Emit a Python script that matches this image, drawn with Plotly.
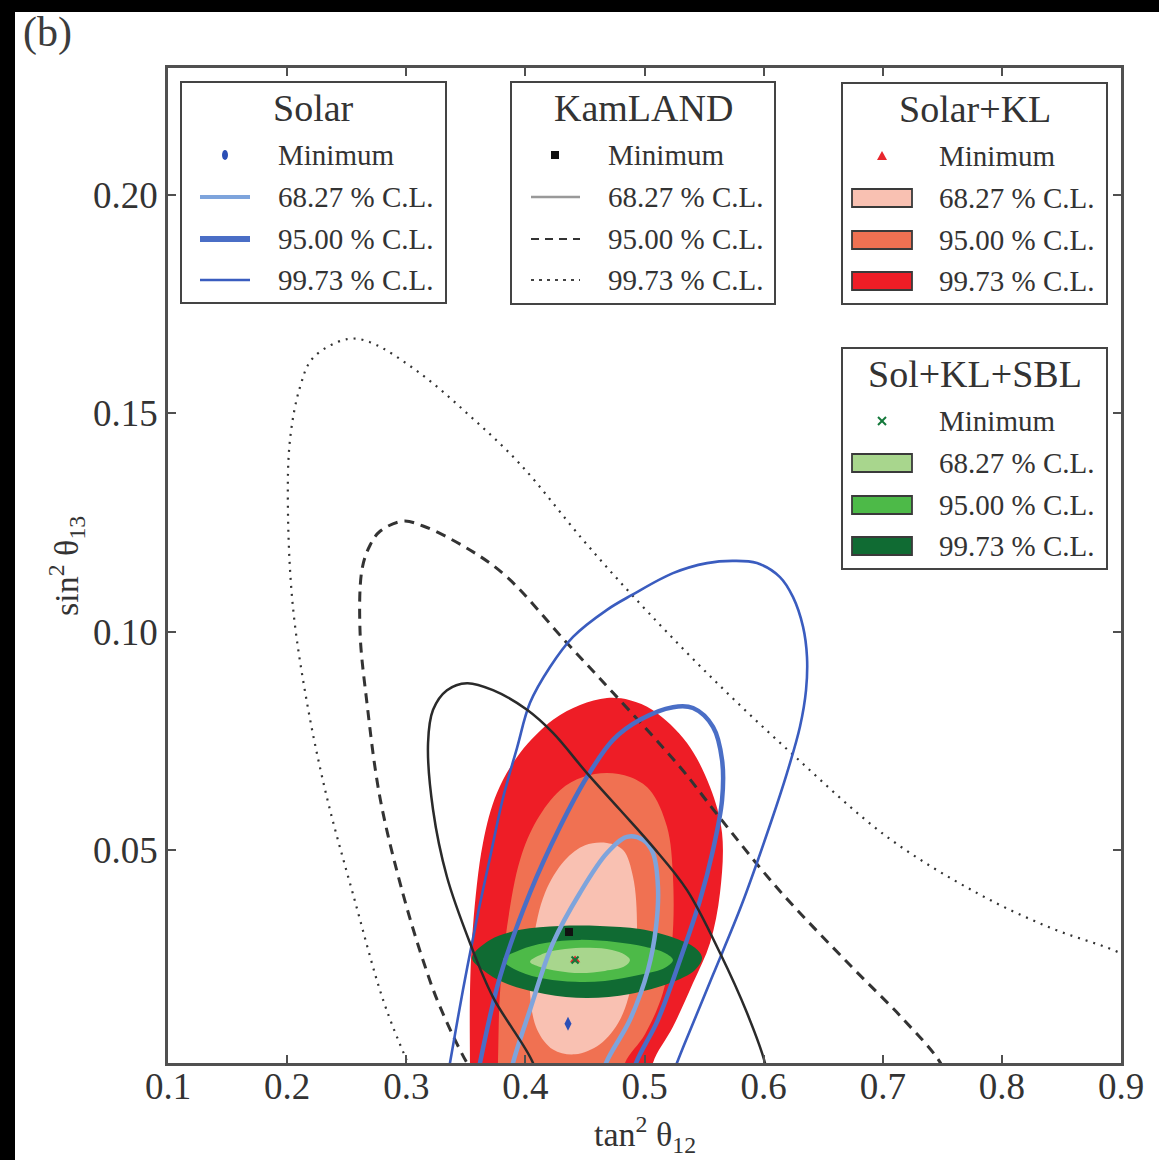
import plotly.graph_objects as go

# ---------------- contour data (tan^2 theta12, sin^2 theta13) ----------------
# KamLAND-only contours (open at the sin^2 theta13 = 0 boundary)
kl_9973_x = [0.3115, 0.299, 0.2805, 0.2553, 0.2335, 0.2167, 0.2049, 0.2007, 0.2024, 0.2108,
             0.2217, 0.2503, 0.2696, 0.3115, 0.3535, 0.3955, 0.4484, 0.4895, 0.5525, 0.6247,
             0.7036, 0.78, 0.8413, 0.8975, 0.95]
kl_9973_y = [-0.0049, 0.0027, 0.0157, 0.0399, 0.0619, 0.0837, 0.1056, 0.1276, 0.1439, 0.156,
             0.1627, 0.167, 0.1663, 0.1592, 0.1494, 0.1384, 0.121, 0.1084, 0.0905, 0.0718,
             0.053, 0.04, 0.0321, 0.0266, 0.019]

kl_9500_x = [0.3661, 0.351, 0.3283, 0.3157, 0.2973, 0.278, 0.267, 0.2612, 0.2629, 0.2696, 0.278,
             0.2973, 0.3141, 0.3535, 0.3846, 0.4349, 0.4736, 0.5298, 0.56, 0.612, 0.6733,
             0.717, 0.748, 0.7564]
kl_9500_y = [-0.005, 0.0012, 0.0141, 0.0234, 0.0399, 0.0619, 0.0837, 0.1001, 0.1143, 0.1198, 0.123,
             0.1253, 0.1242, 0.1187, 0.1125, 0.0974, 0.086, 0.069, 0.0585, 0.0411, 0.0234,
             0.0113, 0.0014, -0.004]

kl_6827_x = [0.4106, 0.4064, 0.3728, 0.3535, 0.3342, 0.3225, 0.3183, 0.3225, 0.3342, 0.351, 0.3728,
             0.4014, 0.4232, 0.4517, 0.4794, 0.5071, 0.5357, 0.5634, 0.586, 0.6011, 0.6036]
kl_6827_y = [-0.004, 0.0012, 0.0163, 0.0287, 0.0438, 0.0592, 0.0745, 0.0821, 0.0866, 0.0882, 0.0866,
             0.0821, 0.0768, 0.0676, 0.0592, 0.0507, 0.0408, 0.0264, 0.0127, 0.0012, -0.004]

# Solar-only contours
sol_9973_x = [0.3334, 0.3367, 0.3476, 0.3594, 0.3703, 0.3812, 0.393, 0.4039, 0.4207, 0.44, 0.4685,
              0.4895, 0.5239, 0.5525, 0.5743, 0.5944, 0.6137, 0.6247, 0.6331, 0.6364, 0.6356,
              0.6305, 0.6196, 0.6062, 0.5818, 0.5575, 0.5332, 0.5197]
sol_9973_y = [-0.004, 0.0012, 0.0179, 0.0344, 0.0482, 0.0619, 0.0734, 0.0837, 0.0919, 0.0988, 0.105,
              0.1084, 0.1134, 0.1157, 0.1162, 0.1157, 0.1125, 0.1079, 0.1011, 0.0942, 0.0866,
              0.0782, 0.0676, 0.0564, 0.0376, 0.0214, 0.0053, -0.004]

sol_9500_x = [0.3586, 0.3619, 0.3787, 0.4039, 0.4291, 0.4517, 0.4736, 0.4962, 0.5239, 0.5407, 0.5575,
              0.5651, 0.5651, 0.5575, 0.5466, 0.5298, 0.5113, 0.4929, 0.4878]
sol_9500_y = [-0.004, 0.0012, 0.0209, 0.0402, 0.0553, 0.0667, 0.0752, 0.0798, 0.0827, 0.0825, 0.0782,
              0.0706, 0.0614, 0.05, 0.0385, 0.0248, 0.0111, 0.0012, -0.004]

sol_6827_x = [0.3862, 0.3896, 0.4039, 0.4232, 0.4459, 0.4685, 0.4853, 0.4987, 0.5071, 0.5113, 0.5097,
              0.5029, 0.4878, 0.4677, 0.4627]
sol_6827_y = [-0.004, 0.0012, 0.0134, 0.0287, 0.0402, 0.0493, 0.053, 0.0523, 0.0493, 0.0415, 0.0324,
              0.0225, 0.0111, 0.0012, -0.004]

# Solar+KL allowed regions (filled)
skl_9973_x = [0.3535, 0.3535, 0.3535, 0.356, 0.3644, 0.3762, 0.3955, 0.4232, 0.4459, 0.4685, 0.4878,
              0.5071, 0.5357, 0.555, 0.5651, 0.5634, 0.555, 0.5407, 0.5239, 0.5071, 0.5046, 0.43]
skl_9973_y = [-0.006, 0.0012, 0.0173, 0.0324, 0.0516, 0.0631, 0.0722, 0.0798, 0.0832, 0.0848, 0.0843,
              0.082, 0.0745, 0.0644, 0.0539, 0.0402, 0.0287, 0.0195, 0.0095, 0.0012, -0.006, -0.02]

skl_9500_x = [0.3762, 0.377, 0.3787, 0.3846, 0.3955, 0.4098, 0.4291, 0.4484, 0.4685, 0.4878, 0.5046,
              0.5189, 0.5239, 0.5231, 0.5155, 0.5004, 0.4836, 0.4794, 0.43]
skl_9500_y = [-0.006, 0.0012, 0.0173, 0.0324, 0.0477, 0.0569, 0.0637, 0.0667, 0.0676, 0.0667, 0.0637,
              0.0553, 0.0438, 0.0287, 0.0173, 0.0078, 0.0012, -0.006, -0.02]

skl_6827_x = [0.4039, 0.4064, 0.4165, 0.4333, 0.4501, 0.4685, 0.482, 0.4904, 0.4937, 0.4904, 0.4794,
              0.4626, 0.4417, 0.4232, 0.4098, 0.4039]
skl_6827_y = [0.0173, 0.0287, 0.0402, 0.0477, 0.0511, 0.0516, 0.05, 0.0438, 0.0324, 0.0209, 0.0111,
              0.0055, 0.0032, 0.0043, 0.0089, 0.0173]

# Solar+KL+SBL allowed regions (filled)
sbl_9973_x = [0.3552, 0.3703, 0.3955, 0.4291, 0.4626, 0.4962, 0.5256, 0.5424, 0.5483, 0.5424, 0.5214,
              0.4878, 0.4517, 0.4165, 0.3829, 0.3644, 0.3552]
sbl_9973_y = [0.0253, 0.0294, 0.0317, 0.0326, 0.0326, 0.0319, 0.0298, 0.0276, 0.0253, 0.0225, 0.0195,
              0.017, 0.0161, 0.017, 0.0195, 0.0225, 0.0253]

sbl_9500_x = [0.3812, 0.3955, 0.4165, 0.4459, 0.4752, 0.5004, 0.5172, 0.5239, 0.5172, 0.4962, 0.4668,
              0.4417, 0.4165, 0.3955, 0.3812]
sbl_9500_y = [0.0248, 0.0271, 0.0287, 0.0294, 0.0289, 0.0278, 0.0264, 0.0248, 0.023, 0.0214, 0.02,
              0.0198, 0.0205, 0.0221, 0.0248]

sbl_6827_x = [0.4039, 0.4165, 0.4333, 0.4543, 0.4727, 0.4836, 0.4878, 0.4836, 0.4668, 0.4459, 0.4274,
              0.4123, 0.4039]
sbl_6827_y = [0.0244, 0.0264, 0.0273, 0.0276, 0.0271, 0.026, 0.0248, 0.0234, 0.0223, 0.0218, 0.0223,
              0.0232, 0.0244]

# best-fit points
solar_min = (0.4358, 0.0102)
kl_min = (0.4366, 0.0312)
skl_min = (0.4417, 0.0248)
sbl_min = (0.4417, 0.0248)

x_ticks = [0.1, 0.2, 0.3, 0.4, 0.5, 0.6, 0.7, 0.8, 0.9]
y_ticks = [0.05, 0.10, 0.15, 0.20]
cl_labels = ["68.27 % C.L.", "95.00 % C.L.", "99.73 % C.L."]

# ---------------- styling ----------------
SERIF = "Liberation Serif"
TXT = "#333333"
AX = "#505050"
SOL_COL = ["#7ea4dc", "#4a6ec6", "#3a5cbf"]
SOL_W = [4.5, 4.5, 2.6]
RED_COL = ["#f9c1b2", "#f07152", "#ee1d26"]
GRN_COL = ["#a8d68d", "#4dba48", "#106b33"]

W, H = 1159, 1160
ML, MR, MT, MB = 168, 38, 68, 97
PW, PH = W - ML - MR, H - MT - MB


def px(x):
    return (x - ML) / PW


def py(y):
    return (H - MB - y) / PH


fig = go.Figure()


def add_fill(xs, ys, color):
    fig.add_trace(go.Scatter(x=xs, y=ys, mode="lines", fill="toself", fillcolor=color,
                             line=dict(width=0, color=color, shape="spline"),
                             hoverinfo="skip", showlegend=False))


def add_line(xs, ys, color, width, dash="solid"):
    fig.add_trace(go.Scatter(x=xs, y=ys, mode="lines",
                             line=dict(color=color, width=width, dash=dash, shape="spline"),
                             hoverinfo="skip", showlegend=False))


# Solar+KL regions
add_fill(skl_9973_x, skl_9973_y, RED_COL[2])
add_fill(skl_9500_x, skl_9500_y, RED_COL[1])
add_fill(skl_6827_x, skl_6827_y, RED_COL[0])
# Solar+KL+SBL regions
add_fill(sbl_9973_x, sbl_9973_y, GRN_COL[2])
add_fill(sbl_9500_x, sbl_9500_y, GRN_COL[1])
add_fill(sbl_6827_x, sbl_6827_y, GRN_COL[0])
# KamLAND contours
add_line(kl_9973_x, kl_9973_y, "#333333", 2.2, "2px,6px")
add_line(kl_9500_x, kl_9500_y, "#333333", 3, "10px,7px")
# Solar contours
add_line(sol_9973_x, sol_9973_y, SOL_COL[2], SOL_W[2])
add_line(sol_9500_x, sol_9500_y, SOL_COL[1], SOL_W[1])
add_line(sol_6827_x, sol_6827_y, SOL_COL[0], SOL_W[0])
add_line(kl_6827_x, kl_6827_y, "#2a2a2a", 2.5)

# best-fit markers
fig.add_trace(go.Scatter(x=[solar_min[0]], y=[solar_min[1]], mode="markers",
                         marker=dict(symbol="diamond-tall", size=10, color="#2b4fb6"),
                         hoverinfo="skip", showlegend=False))
fig.add_trace(go.Scatter(x=[kl_min[0]], y=[kl_min[1]], mode="markers",
                         marker=dict(symbol="square", size=8, color="#111111"),
                         hoverinfo="skip", showlegend=False))
fig.add_trace(go.Scatter(x=[skl_min[0]], y=[skl_min[1]], mode="markers",
                         marker=dict(symbol="triangle-up", size=9, color="#e8262d"),
                         hoverinfo="skip", showlegend=False))
fig.add_trace(go.Scatter(x=[sbl_min[0]], y=[sbl_min[1]], mode="markers",
                         marker=dict(symbol="x-thin", size=7, line=dict(width=2, color="#13783a")),
                         hoverinfo="skip", showlegend=False))

# ---------------- legend boxes ----------------
shapes = []
annotations = []


def box(left, top, right, bottom, title):
    shapes.append(dict(type="rect", xref="paper", yref="paper", layer="above",
                       x0=px(left), x1=px(right), y0=py(bottom), y1=py(top),
                       line=dict(color="#444444", width=2), fillcolor="white"))
    annotations.append(dict(xref="paper", yref="paper", x=px((left + right) / 2), y=py(top + 26),
                            text=title, showarrow=False, xanchor="center", yanchor="middle",
                            font=dict(family=SERIF, size=38, color=TXT)))
    rows = [top + 73, top + 115, top + 157, top + 198]
    for yy, label in zip(rows, ["Minimum"] + cl_labels):
        annotations.append(dict(xref="paper", yref="paper", x=px(left + 95), y=py(yy),
                                text=label, showarrow=False, xanchor="left", yanchor="middle",
                                font=dict(family=SERIF, size=29, color=TXT)))
    return rows


def seg(x0, x1, y, color, width, dash="solid"):
    shapes.append(dict(type="line", xref="paper", yref="paper", layer="above",
                       x0=px(x0), x1=px(x1), y0=py(y), y1=py(y),
                       line=dict(color=color, width=width, dash=dash)))


def patch(cx, cy, color):
    shapes.append(dict(type="rect", xref="paper", yref="paper", layer="above",
                       x0=px(cx - 30), x1=px(cx + 30), y0=py(cy + 9), y1=py(cy - 9),
                       line=dict(color="#3a3a3a", width=1.8), fillcolor=color))


# Solar
r = box(181, 82, 446, 303, "Solar")
cx = 225
shapes.append(dict(type="circle", xref="paper", yref="paper", layer="above",
                   x0=px(cx - 3), x1=px(cx + 3), y0=py(r[0] + 5), y1=py(r[0] - 5),
                   line=dict(width=0), fillcolor="#2b4fb6"))
seg(200, 250, r[1], SOL_COL[0], 4)
seg(200, 250, r[2], SOL_COL[1], 6)
seg(200, 250, r[3], SOL_COL[2], 2.5)

# KamLAND
r = box(511, 82, 775, 304, "KamLAND")
cx = 555
shapes.append(dict(type="rect", xref="paper", yref="paper", layer="above",
                   x0=px(cx - 4), x1=px(cx + 4), y0=py(r[0] + 4), y1=py(r[0] - 4),
                   line=dict(width=0), fillcolor="#111111"))
seg(531, 580, r[1], "#999999", 2.5)
seg(531, 580, r[2], "#333333", 2.2, "8px,6px")
seg(531, 580, r[3], "#444444", 2, "3px,5px")

# Solar+KL
r = box(842, 83, 1107, 304, "Solar+KL")
cx = 882
shapes.append(dict(type="path", xref="paper", yref="paper", layer="above",
                   path="M {} {} L {} {} L {} {} Z".format(px(cx - 5), py(r[0] + 4), px(cx + 5),
                                                           py(r[0] + 4), px(cx), py(r[0] - 5)),
                   line=dict(width=0), fillcolor="#e8262d"))
for yy, col in zip(r[1:], RED_COL):
    patch(cx, yy, col)

# Sol+KL+SBL
r = box(842, 348, 1107, 569, "Sol+KL+SBL")
for d in (-1, 1):
    shapes.append(dict(type="line", xref="paper", yref="paper", layer="above",
                       x0=px(cx - 4), x1=px(cx + 4), y0=py(r[0] - 4 * d), y1=py(r[0] + 4 * d),
                       line=dict(color="#13783a", width=2)))
for yy, col in zip(r[1:], GRN_COL):
    patch(cx, yy, col)

# dark frame strips along the top and left edges of the page
shapes.append(dict(type="rect", xref="paper", yref="paper", layer="above",
                   x0=px(0), x1=px(W), y0=py(12), y1=py(0), line=dict(width=0), fillcolor="black"))
shapes.append(dict(type="rect", xref="paper", yref="paper", layer="above",
                   x0=px(0), x1=px(15), y0=py(H), y1=py(0), line=dict(width=0), fillcolor="black"))

# panel label and axis titles
annotations.append(dict(xref="paper", yref="paper", x=px(47), y=py(33), text="(b)", showarrow=False,
                        xanchor="center", yanchor="middle",
                        font=dict(family=SERIF, size=42, color="#3c3c3c")))
annotations.append(dict(xref="paper", yref="paper", x=px(645), y=py(1134),
                        text="tan<sup>2</sup> θ<sub>12</sub>", showarrow=False,
                        xanchor="center", yanchor="middle",
                        font=dict(family=SERIF, size=34, color=TXT)))
annotations.append(dict(xref="paper", yref="paper", x=px(66), y=py(566),
                        text="sin<sup>2</sup> θ<sub>13</sub>", showarrow=False, textangle=-90,
                        xanchor="center", yanchor="middle",
                        font=dict(family=SERIF, size=34, color=TXT)))

axis_common = dict(showgrid=False, zeroline=False, showline=True, linecolor=AX, linewidth=2.5,
                   mirror="ticks", ticks="inside", ticklen=8, tickwidth=2, tickcolor=AX,
                   tickfont=dict(family=SERIF, size=37, color=TXT))

fig.update_layout(
    width=W, height=H,
    margin=dict(l=ML, r=MR, t=MT, b=MB),
    paper_bgcolor="white", plot_bgcolor="white",
    xaxis=dict(range=[0.1, 0.9], tickvals=x_ticks, tickformat=".1f", ticklabelstandoff=-11,
               **axis_common),
    yaxis=dict(range=[0.0012, 0.2291], tickvals=y_ticks, tickformat=".2f", **axis_common),
    shapes=shapes, annotations=annotations,
    showlegend=False,
)

fig.write_html("out.html")
